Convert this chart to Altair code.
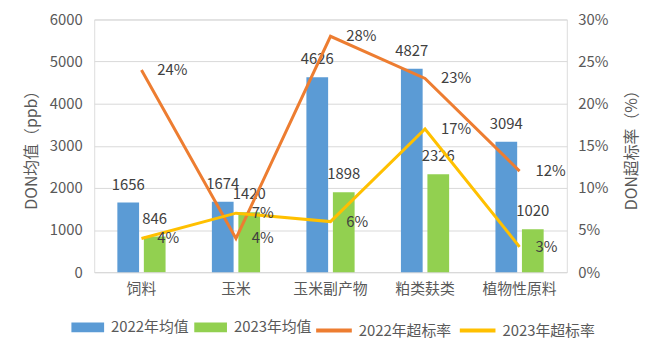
import altair as alt
import pandas as pd

categories = ["饲料", "玉米", "玉米副产物", "粕类麸类", "植物性原料"]
mean_2022 = [1656, 1674, 4626, 4827, 3094]
mean_2023 = [846, 1420, 1898, 2326, 1020]
rate_2022 = [0.24, 0.04, 0.28, 0.23, 0.12]
rate_2023 = [0.04, 0.07, 0.06, 0.17, 0.03]
bar_series = ["2022年均值", "2023年均值"]
line_series = ["2022年超标率", "2023年超标率"]
left_ticks = [0, 1000, 2000, 3000, 4000, 5000, 6000]
right_ticks = [0, 0.05, 0.10, 0.15, 0.20, 0.25, 0.30]

bar_df = pd.DataFrame({
    "category": categories * 2,
    "series": [bar_series[0]] * 5 + [bar_series[1]] * 5,
    "value": mean_2022 + mean_2023,
})
line_df = pd.DataFrame({
    "category": categories * 2,
    "series": [line_series[0]] * 5 + [line_series[1]] * 5,
    "rate": rate_2022 + rate_2023,
})

FONT = "Noto Sans CJK SC"
TXT = "#404040"
AX = "#595959"

x_enc = alt.X("category:N", sort=categories,
              scale=alt.Scale(paddingInner=0.49, paddingOuter=0.245),
              axis=alt.Axis(title=None, labelAngle=0, labelFontSize=15, labelColor=AX,
                            labelPadding=10, ticks=False, domainColor="#D9D9D9",
                            grid=False, labelFont=FONT))

bars_base = alt.Chart(bar_df).encode(
    x=x_enc,
    xOffset=alt.XOffset("series:N", sort=bar_series,
                        scale=alt.Scale(paddingInner=0.18, paddingOuter=0)),
    y=alt.Y("value:Q", scale=alt.Scale(domain=[0, 6000]),
            axis=alt.Axis(values=left_ticks, format="d", grid=True, gridColor="#D9D9D9",
                          domain=False, ticks=False, labelFontSize=15, labelColor=AX,
                          labelPadding=12, title="DON均值（ppb）", titleFontSize=16,
                          titleColor=AX, titleFontWeight="normal", titlePadding=10,
                          labelFont=FONT, titleFont=FONT)),
)
bars = bars_base.mark_bar().encode(
    color=alt.Color("series:N", sort=bar_series,
                    scale=alt.Scale(domain=bar_series, range=["#5B9BD5", "#92D050"]),
                    legend=alt.Legend(title=None, orient="none", direction="horizontal",
                                      legendX=-23, legendY=294,
                                      symbolType="M-1,-0.3L1,-0.3L1,0.3L-1,0.3Z",
                                      symbolSize=1089, symbolStrokeWidth=0,
                                      labelFontSize=15, labelColor=AX, labelOffset=7,
                                      columnPadding=5, labelFont=FONT))
)
bar_text = bars_base.mark_text(baseline="middle", dy=-18, fontSize=15, color=TXT,
                               font=FONT).encode(text=alt.Text("value:Q"))

lines_base = alt.Chart(line_df).encode(
    x=alt.X("category:N", sort=categories),
    y=alt.Y("rate:Q", scale=alt.Scale(domain=[0, 0.3]),
            axis=alt.Axis(orient="right", values=right_ticks, format=".0%", grid=False,
                          domain=False, ticks=False, labelFontSize=15, labelColor=AX,
                          labelPadding=11, title="DON超标率（%）", titleFontSize=16,
                          titleColor=AX, titleFontWeight="normal", titleAngle=-90,
                          titlePadding=32, labelFont=FONT, titleFont=FONT)),
)
lines = lines_base.mark_line(strokeWidth=3).encode(
    stroke=alt.Stroke("series:N", sort=line_series,
                      scale=alt.Scale(domain=line_series, range=["#ED7D31", "#FFC000"]),
                      legend=alt.Legend(title=None, orient="none", direction="horizontal",
                                        legendX=222, legendY=294, symbolType="stroke",
                                        symbolSize=1296, symbolStrokeWidth=4,
                                        labelFontSize=15, labelColor=AX, labelOffset=5,
                                        columnPadding=0, labelFont=FONT)),
    detail="series:N",
)
line_text = lines_base.mark_text(align="left", baseline="middle", dx=16, fontSize=15,
                                 color=TXT, font=FONT).encode(
    text=alt.Text("rate:Q", format=".0%"))

chart = alt.layer(
    alt.layer(bars, bar_text),
    alt.layer(lines, line_text),
).resolve_scale(y="independent", color="independent").properties(
    width=477, height=255,
    autosize=alt.AutoSizeParams(type="none"),
    padding={"left": 87, "top": 10, "right": 89, "bottom": 76},
).configure_view(stroke=None).configure(font=FONT)

chart.save("out.html", embed_options={"renderer": "svg", "actions": False})
